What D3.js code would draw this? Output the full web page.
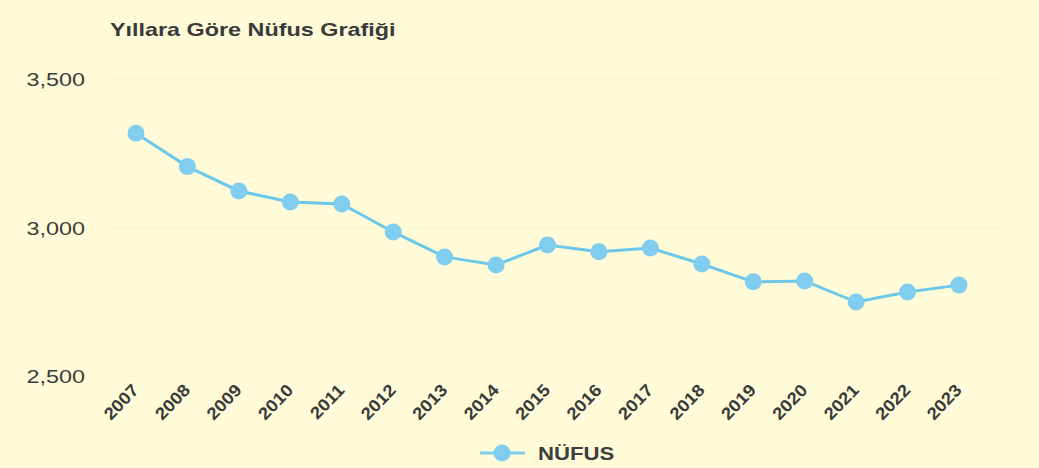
<!DOCTYPE html>
<html>
<head>
<meta charset="utf-8">
<script src="https://cdn.jsdelivr.net/npm/d3@7"></script>
<style>
  html, body { margin: 0; padding: 0; background: #fffbd8; }
  svg { display: block; font-family: "Liberation Sans", Arial, sans-serif; }
</style>
</head>
<body>
<svg width="1039" height="468"></svg>
<script>
var width = 1039;
var height = 468;
var stretch = 1.23; // the picture's text is a little wider than tall

// data
var years = ["2007", "2008", "2009", "2010", "2011", "2012", "2013", "2014", "2015",
             "2016", "2017", "2018", "2019", "2020", "2021", "2022", "2023"];
var nufus = [3317, 3205, 3123, 3086, 3079, 2985, 2901, 2874, 2941,
             2918, 2931, 2877, 2817, 2820, 2749, 2783, 2806];
var yTicks = [2500, 3000, 3500];
var title = "Yıllara Göre Nüfus Grafiği";
var seriesName = "NÜFUS";

var data = years.map(function (y, i) { return {year: y, value: nufus[i]}; });

// scales
var x = d3.scalePoint().domain(years).range([136, 959]);
var y = d3.scaleLinear().domain([2500, 3500]).range([376, 79]);

var svg = d3.select("svg");

svg.append("rect")
  .attr("width", width)
  .attr("height", height)
  .attr("fill", "#fffbd8");

// faint grid
svg.append("g")
  .selectAll("line")
  .data(yTicks)
  .enter()
  .append("line")
  .attr("x1", 110)
  .attr("x2", 1000)
  .attr("y1", function (d) { return y(d); })
  .attr("y2", function (d) { return y(d); })
  .attr("stroke", "#f8f2d0")
  .attr("stroke-width", 1);

// y axis
var yAxis = svg.append("g")
  .attr("transform", "translate(88,0)")
  .call(d3.axisLeft(y).tickValues(yTicks).tickSize(0).tickPadding(3).tickFormat(d3.format(",")));
yAxis.select(".domain").remove();
yAxis.selectAll("text")
  .attr("x", 0)
  .attr("dy", "0.36em")
  .attr("transform", "translate(-3,0) scale(" + stretch + ",1)")
  .style("font-family", "'Liberation Sans', Arial, sans-serif")
  .style("font-size", "19px")
  .attr("fill", "#3c3c3c");

// x axis
var xAxis = svg.append("g")
  .attr("transform", "translate(0,383)")
  .call(d3.axisBottom(x).tickSize(0));
xAxis.select(".domain").remove();
xAxis.selectAll("text")
  .attr("x", 0)
  .attr("y", 0)
  .attr("dy", "0.35em")
  .attr("text-anchor", "end")
  .attr("transform", "translate(-1,4) rotate(-46) scale(1.1,1)")
  .style("font-family", "'Liberation Sans', Arial, sans-serif")
  .style("font-size", "17px")
  .style("font-weight", "bold")
  .attr("fill", "#3a3a3a");

// line + markers
var line = d3.line()
  .x(function (d) { return x(d.year); })
  .y(function (d) { return y(d.value); });

svg.append("path")
  .datum(data)
  .attr("d", line)
  .attr("fill", "none")
  .attr("stroke", "#6cc8ea")
  .attr("stroke-width", 3);

svg.selectAll("circle.pt")
  .data(data)
  .enter()
  .append("circle")
  .attr("class", "pt")
  .attr("cx", function (d) { return x(d.year); })
  .attr("cy", function (d) { return y(d.value); })
  .attr("r", 8.5)
  .attr("fill", "#80cdef");

// title
svg.append("text")
  .attr("transform", "translate(110,36) scale(" + stretch + ",1)")
  .style("font-size", "19px")
  .style("font-weight", "bold")
  .attr("fill", "#3a3a3a")
  .text(title);

// legend
var legend = svg.append("g").attr("transform", "translate(480,453)");
legend.append("line")
  .attr("x1", 0).attr("x2", 45)
  .attr("y1", 0).attr("y2", 0)
  .attr("stroke", "#80cdef")
  .attr("stroke-width", 3);
legend.append("circle")
  .attr("cx", 22).attr("cy", 0)
  .attr("r", 8.5)
  .attr("fill", "#80cdef");
legend.append("text")
  .attr("transform", "translate(58,6.5) scale(" + stretch + ",1)")
  .style("font-size", "18px")
  .style("font-weight", "bold")
  .attr("fill", "#3e3e3e")
  .text(seriesName);
</script>
</body>
</html>
